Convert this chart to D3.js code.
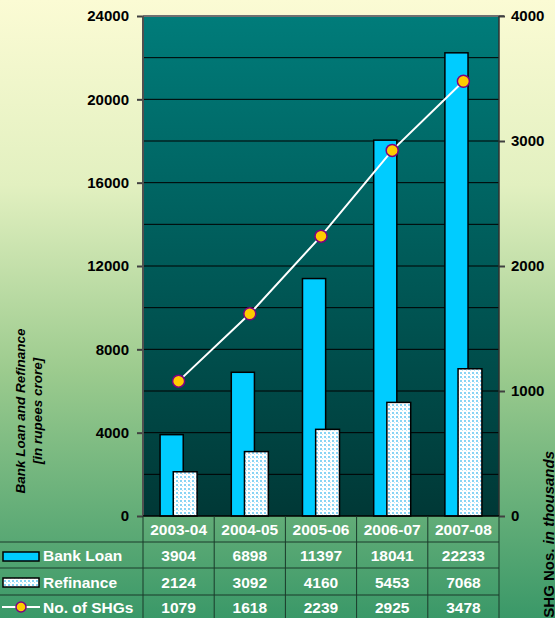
<!DOCTYPE html>
<html>
<head>
<meta charset="utf-8">
<script src="https://cdn.jsdelivr.net/npm/d3@7"></script>
<style>
  body { margin: 0; padding: 0; }
  svg { display: block; font-family: "Liberation Sans", Arial, sans-serif; }
</style>
</head>
<body>
<div id="chart"></div>
<script>
// chart values
const years = ["2003-04", "2004-05", "2005-06", "2006-07", "2007-08"];
const bankLoan = [3904, 6898, 11397, 18041, 22233];
const refinance = [2124, 3092, 4160, 5453, 7068];
const shgs = [1079, 1618, 2239, 2925, 3478];
const leftTicks = [0, 4000, 8000, 12000, 16000, 20000, 24000];
const rightTicks = [0, 1000, 2000, 3000, 4000];
const gridValues = [2000, 4000, 6000, 8000, 10000, 12000, 14000, 16000, 18000, 20000, 22000];

let width = 555, height = 618;
let plotL = 143, plotR = 499, plotT = 16, plotB = 516;
let rowY = [516, 542, 568, 595, 618];

let svg = d3.select("#chart").append("svg")
  .attr("width", width)
  .attr("height", height);

let defs = svg.append("defs");

// page background gradient
let bg = defs.append("linearGradient").attr("id", "bgGrad")
  .attr("x1", 0).attr("y1", 0).attr("x2", 0).attr("y2", 1);
bg.append("stop").attr("offset", "0%").attr("stop-color", "#fbfbd4");
bg.append("stop").attr("offset", "30%").attr("stop-color", "#e2f0c0");
bg.append("stop").attr("offset", "60%").attr("stop-color", "#9ccb8e");
bg.append("stop").attr("offset", "100%").attr("stop-color", "#3a9868");

// plot background gradient
let pg = defs.append("linearGradient").attr("id", "plotGrad")
  .attr("x1", 0).attr("y1", 0).attr("x2", 0).attr("y2", 1);
pg.append("stop").attr("offset", "0%").attr("stop-color", "#007c7a");
pg.append("stop").attr("offset", "100%").attr("stop-color", "#003836");

// dotted fill for refinance bars
let pat = defs.append("pattern").attr("id", "dots")
  .attr("width", 4).attr("height", 4)
  .attr("patternUnits", "userSpaceOnUse");
pat.append("rect").attr("width", 4).attr("height", 4).attr("fill", "#ffffff");
pat.append("rect").attr("x", 0).attr("y", 0).attr("width", 2).attr("height", 2).attr("fill", "#88d4f4");
pat.append("rect").attr("x", 2).attr("y", 2).attr("width", 1).attr("height", 1).attr("fill", "#b8e6f8");

svg.append("rect")
  .attr("width", width).attr("height", height)
  .attr("fill", "url(#bgGrad)");

// scales
let xScale = d3.scaleBand().domain(years).range([plotL, plotR]).padding(0);
let yLeft = d3.scaleLinear().domain([0, 24000]).range([plotB, plotT]);
let yRight = d3.scaleLinear().domain([0, 4000]).range([plotB, plotT]);
let bw = xScale.bandwidth();

// plot area
svg.append("rect")
  .attr("x", plotL).attr("y", plotT)
  .attr("width", plotR - plotL).attr("height", plotB - plotT)
  .attr("fill", "url(#plotGrad)");

// gridlines
svg.append("g")
  .selectAll("line")
  .data(gridValues)
  .enter()
  .append("line")
  .attr("x1", plotL).attr("x2", plotR)
  .attr("y1", d => yLeft(d)).attr("y2", d => yLeft(d))
  .attr("stroke", "#000000")
  .attr("stroke-width", 1);

// top border
svg.append("line")
  .attr("x1", plotL).attr("x2", plotR + 5)
  .attr("y1", plotT).attr("y2", plotT)
  .attr("stroke", "#707070").attr("stroke-width", 2);

// bank loan bars
svg.append("g")
  .selectAll("rect")
  .data(bankLoan)
  .enter()
  .append("rect")
  .attr("x", (d, i) => xScale(years[i]) + bw * 0.24)
  .attr("y", d => yLeft(d))
  .attr("width", bw * 0.325)
  .attr("height", d => plotB - yLeft(d))
  .attr("fill", "#00ccff")
  .attr("stroke", "#000000")
  .attr("stroke-width", 1.5);

// refinance bars
svg.append("g")
  .selectAll("rect")
  .data(refinance)
  .enter()
  .append("rect")
  .attr("x", (d, i) => xScale(years[i]) + bw * 0.425)
  .attr("y", d => yLeft(d))
  .attr("width", bw * 0.335)
  .attr("height", d => plotB - yLeft(d))
  .attr("fill", "url(#dots)")
  .attr("stroke", "#000000")
  .attr("stroke-width", 1.5);

// SHG line
let line = d3.line()
  .x((d, i) => xScale(years[i]) + bw / 2)
  .y(d => yRight(d));

svg.append("path")
  .datum(shgs)
  .attr("d", line)
  .attr("fill", "none")
  .attr("stroke", "#ffffff")
  .attr("stroke-width", 2);

svg.append("g")
  .selectAll("circle")
  .data(shgs)
  .enter()
  .append("circle")
  .attr("cx", (d, i) => xScale(years[i]) + bw / 2)
  .attr("cy", d => yRight(d))
  .attr("r", 6)
  .attr("fill", "#ffcc00")
  .attr("stroke", "#800080")
  .attr("stroke-width", 1.5);

// axes
let leftAxis = d3.axisLeft(yLeft).tickValues(leftTicks).tickSize(6).tickPadding(8).tickFormat(d3.format("d"));
let rightAxis = d3.axisRight(yRight).tickValues(rightTicks).tickSize(6).tickPadding(6).tickFormat(d3.format("d"));

let gl = svg.append("g")
  .attr("transform", `translate(${plotL},0)`)
  .call(leftAxis);
let gr = svg.append("g")
  .attr("transform", `translate(${plotR},0)`)
  .call(rightAxis);

[gl, gr].forEach(g => {
  g.select(".domain").remove();
  g.selectAll(".tick line").attr("stroke", "#404040").attr("stroke-width", 2);
  g.selectAll(".tick text")
    .attr("fill", "#000000")
    .style("font-size", "15px")
    .style("font-weight", "bold")
    .style("font-family", "'Liberation Sans', Arial, sans-serif");
});

// axis lines
svg.append("line")
  .attr("x1", plotL).attr("x2", plotL)
  .attr("y1", plotT).attr("y2", plotB)
  .attr("stroke", "#505050").attr("stroke-width", 2);
svg.append("line")
  .attr("x1", plotR).attr("x2", plotR)
  .attr("y1", plotT).attr("y2", plotB)
  .attr("stroke", "#303030").attr("stroke-width", 1.5);

// axis titles
let leftTitle = svg.append("text")
  .attr("transform", "translate(24.5,411) rotate(-90)")
  .attr("text-anchor", "middle")
  .style("font-size", "13.5px")
  .style("font-weight", "bold")
  .style("font-style", "italic")
  .attr("fill", "#000000");
leftTitle.append("tspan").attr("x", 0).attr("dy", 0).text("Bank Loan and Refinance");
leftTitle.append("tspan").attr("x", 0).attr("dy", 17).text("[in rupees crore]");

let rightTitle = svg.append("text")
  .attr("transform", "translate(553.5,451) rotate(-90)")
  .attr("text-anchor", "end")
  .style("font-size", "15px")
  .style("font-weight", "bold")
  .attr("fill", "#000000");
rightTitle.append("tspan").text("SHG Nos. ");
rightTitle.append("tspan").style("font-style", "italic").text("in thousands");

// data table
let table = svg.append("g");

table.append("line")
  .attr("x1", plotL).attr("x2", plotR)
  .attr("y1", plotB).attr("y2", plotB)
  .attr("stroke", "#000000").attr("stroke-width", 1.5);

table.selectAll("line.row")
  .data(rowY.slice(1, 4))
  .enter()
  .append("line")
  .attr("class", "row")
  .attr("x1", 0).attr("x2", plotR)
  .attr("y1", d => d).attr("y2", d => d)
  .attr("stroke", "#1a3a2a").attr("stroke-width", 1);

let colEdges = years.map(d => xScale(d)).concat([plotR]);
table.selectAll("line.col")
  .data(colEdges)
  .enter()
  .append("line")
  .attr("class", "col")
  .attr("x1", d => d).attr("x2", d => d)
  .attr("y1", plotB).attr("y2", height)
  .attr("stroke", "#1a3a2a").attr("stroke-width", 1);

let rows = [years, bankLoan, refinance, shgs];
rows.forEach((r, ri) => {
  table.append("g")
    .selectAll("text")
    .data(r)
    .enter()
    .append("text")
    .attr("x", (d, i) => xScale(years[i]) + bw / 2)
    .attr("y", (rowY[ri] + rowY[ri + 1]) / 2 + 6)
    .attr("text-anchor", "middle")
    .attr("fill", "#ffffff")
    .style("font-size", "15.5px")
    .style("font-weight", "bold")
    .text(d => d);
});

// legend keys in the table
let legendNames = ["Bank Loan", "Refinance", "No. of SHGs"];
table.append("g")
  .selectAll("text")
  .data(legendNames)
  .enter()
  .append("text")
  .attr("x", 43)
  .attr("y", (d, i) => (rowY[i + 1] + rowY[i + 2]) / 2 + 6)
  .attr("fill", "#ffffff")
  .style("font-size", "15.5px")
  .style("font-weight", "bold")
  .text(d => d);

table.append("rect")
  .attr("x", 3).attr("y", 552).attr("width", 36).attr("height", 9)
  .attr("fill", "#00ccff").attr("stroke", "#000000").attr("stroke-width", 1.5);
table.append("rect")
  .attr("x", 3).attr("y", 578).attr("width", 36).attr("height", 9)
  .attr("fill", "url(#dots)").attr("stroke", "#000000").attr("stroke-width", 1.5);
table.append("line")
  .attr("x1", 2).attr("x2", 40).attr("y1", 607).attr("y2", 607)
  .attr("stroke", "#ffffff").attr("stroke-width", 2);
table.append("circle")
  .attr("cx", 21).attr("cy", 607).attr("r", 5)
  .attr("fill", "#ffcc00").attr("stroke", "#800080").attr("stroke-width", 1.5);
</script>
</body>
</html>
